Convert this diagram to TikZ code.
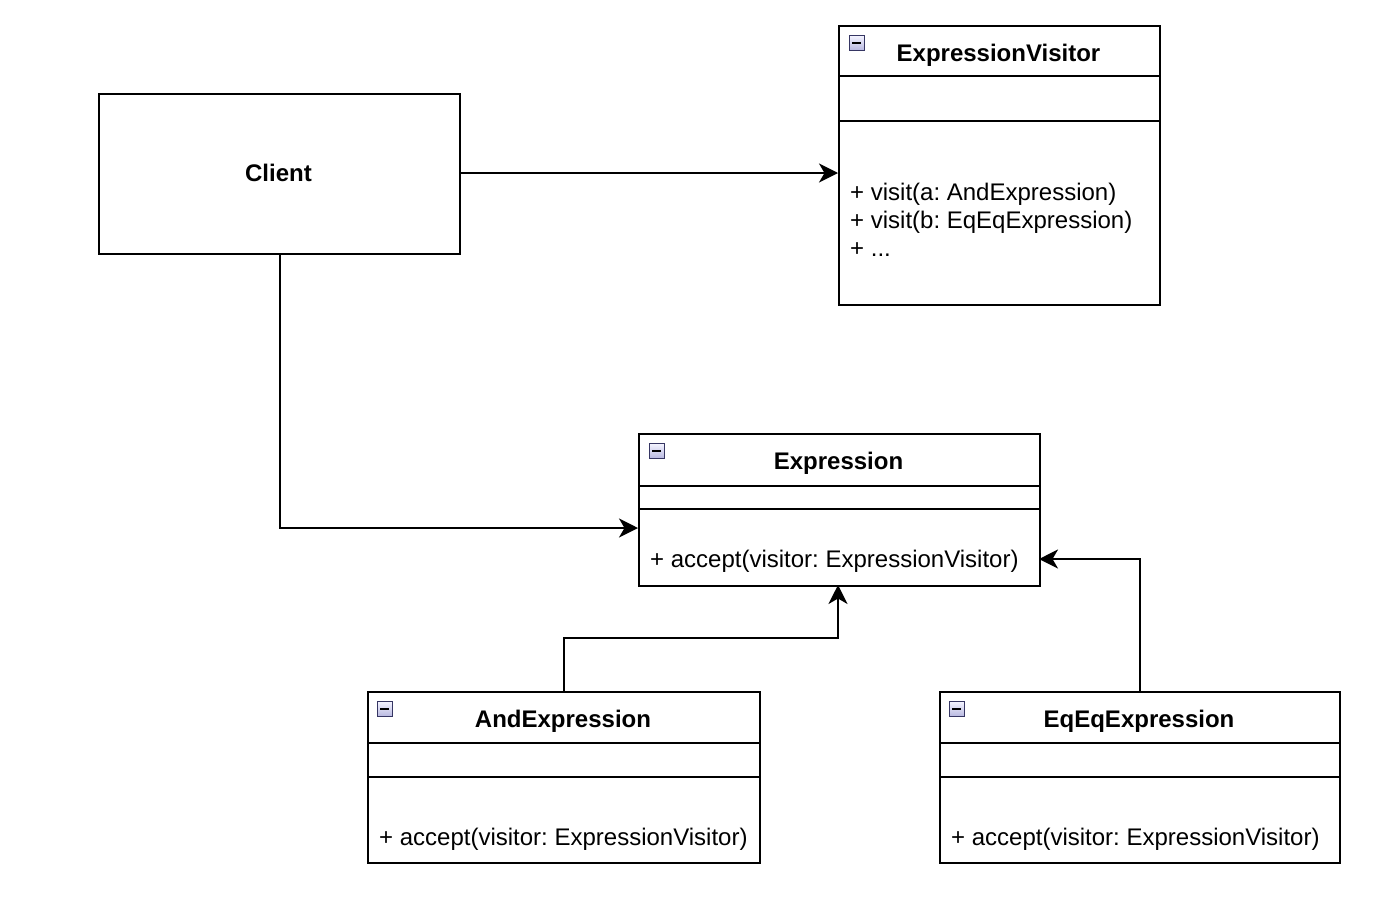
\documentclass[tikz,border=0pt]{standalone}
\usepackage{fontspec}
\setmainfont{Liberation Sans}
\usetikzlibrary{arrows.meta}
\frenchspacing
\begin{document}
\begin{tikzpicture}[x=1pt,y=-1pt,
  box/.style={draw=black,line width=2pt,rectangle,inner sep=0pt,anchor=north west},
  sep/.style={line width=2pt},
  ttl/.style={font=\fontsize{24}{28}\selectfont\bfseries,inner sep=0pt,anchor=base},
  meth/.style={font=\fontsize{24}{28}\selectfont,inner sep=0pt,anchor=base west},
  icon/.style={draw=gray!70!blue!60!black,line width=0.8pt,top color=blue!4,bottom color=gray!60!blue!40,minimum size=15pt,inner sep=0pt,rectangle,anchor=north west},
  conn/.style={line width=2pt,-{Stealth[length=19pt 0 0,width=19pt 0 0,inset=5.5pt 0]}}
]
\useasboundingbox (0,0) rectangle (1384,900);
\fill[white] (0,0) rectangle (1384,900);

% Client
\node[box,minimum width=361pt,minimum height=160pt] (client) at (98,93) {};
\node[ttl] (clientT) at (278.5,181.6) {Client};

% ExpressionVisitor
\node[box,minimum width=321pt,minimum height=279pt] (visitor) at (838,25) {};
\draw[sep] (838,76) -- (1159,76);
\draw[sep] (838,121) -- (1159,121);
\node[icon] (visitorI) at (849,35) {};
\draw[line width=2pt] (852,43) -- (861,43);
\node[ttl] (visitorT) at (998.5,61.6) {ExpressionVisitor};
\node[meth] (visitorM1) at (850,200.6) {+ visit(a: AndExpression)};
\node[meth] (visitorM2) at (850,228.6) {+ visit(b: EqEqExpression)};
\node[meth] (visitorM3) at (850,256.6) {+ ...};

% Expression
\node[box,minimum width=401pt,minimum height=152pt] (expr) at (638,433) {};
\draw[sep] (638,486) -- (1039,486);
\draw[sep] (638,509) -- (1039,509);
\node[icon] (exprI) at (649,443) {};
\draw[line width=2pt] (652,451) -- (661,451);
\node[ttl] (exprT) at (838.5,469.6) {Expression};
\node[meth] (exprM) at (650,567.6) {+ accept(visitor: ExpressionVisitor)};

% AndExpression
\node[box,minimum width=392pt,minimum height=171pt] (andE) at (367,691) {};
\draw[sep] (367,743) -- (759,743);
\draw[sep] (367,777) -- (759,777);
\node[icon] (andI) at (377,701) {};
\draw[line width=2pt] (380,709) -- (389,709);
\node[ttl] (andT) at (563,727.6) {AndExpression};
\node[meth] (andM) at (379,845.6) {+ accept(visitor: ExpressionVisitor)};

% EqEqExpression
\node[box,minimum width=400pt,minimum height=171pt] (eqE) at (939,691) {};
\draw[sep] (939,743) -- (1339,743);
\draw[sep] (939,777) -- (1339,777);
\node[icon] (eqI) at (949,701) {};
\draw[line width=2pt] (952,709) -- (961,709);
\node[ttl] (eqT) at (1139,727.6) {EqEqExpression};
\node[meth] (eqM) at (951,845.6) {+ accept(visitor: ExpressionVisitor)};

% connectors
\coordinate (visIn) at (838,173);
\coordinate (exprIn) at (638,528);
\coordinate (exprR) at (1039,559);
\coordinate (exprB) at (838,585);
\draw[conn] (client.east |- visIn) -- (visIn);
\draw[conn] (client.south) |- (exprIn);
\draw[conn] (andE.north) -- ++(0,-53) -| (exprB);
\draw[conn] (eqE.north) |- (exprR);
\end{tikzpicture}
\end{document}
